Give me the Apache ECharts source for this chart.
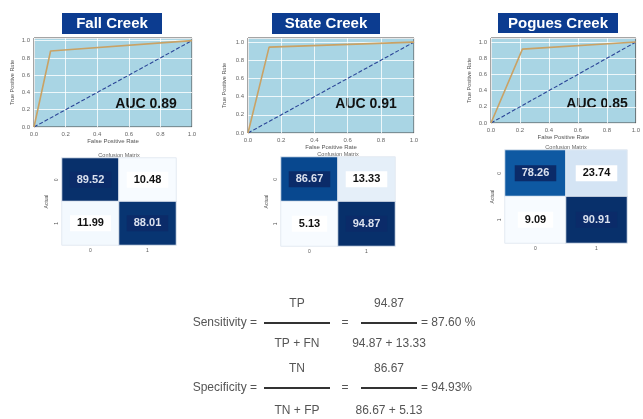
<!DOCTYPE html>
<html>
<head>
<meta charset="utf-8">
<script src="https://cdn.jsdelivr.net/npm/echarts@6/dist/echarts.min.js"></script>
<style>
html,body{margin:0;padding:0;background:#fff;}
#chart{width:643px;height:419px;}
</style>
</head>
<body>
<div id="chart"></div>
<script>
// ---------- data ----------
const creekNames = ['Fall Creek', 'State Creek', 'Pogues Creek'];
const aucValues = ['0.89', '0.91', '0.85'];
const rocFall = [[0, 0], [0.105, 0.88], [1, 1]];
const rocState = [[0, 0], [0.127, 0.945], [1, 1]];
const rocPogues = [[0, 0], [0.217, 0.913], [1, 1]];
const chanceLine = [[0, 0], [1, 1]];
const rocTicks = [0, 0.2, 0.4, 0.6, 0.8, 1.0];
const cmClasses = ['0', '1'];
const cmFall = [[89.52, 10.48], [11.99, 88.01]];
const cmState = [[86.67, 13.33], [5.13, 94.87]];
const cmPogues = [[78.26, 23.74], [9.09, 90.91]];
const sensitivityText = ['Sensitivity =', 'TP', 'TP + FN', '94.87', '94.87 + 13.33', '= 87.60 %'];
const specificityText = ['Specificity =', 'TN', 'TN + FP', '86.67', '86.67 + 5.13', '= 94.93%'];

// ---------- layout ----------
const FONT = "'Liberation Sans', Arial, sans-serif";
const rocData = [rocFall, rocState, rocPogues];
const cmData = [cmFall, cmState, cmPogues];
const rocGrids = [
  {left: 34, top: 38, width: 158, height: 89, ymax: 1.03, yGap: 19, xGap: 10},
  {left: 248, top: 38, width: 166, height: 95, ymax: 1.045, yGap: 21, xGap: 10},
  {left: 491, top: 38, width: 149, height: 85, ymax: 1.05, yGap: 19, xGap: 9}
];
const cmGrids = [
  {left: 62, top: 158, width: 114, height: 87, nameGap: 13},
  {left: 281, top: 157, width: 114, height: 89, nameGap: 12},
  {left: 505, top: 150, width: 122, height: 93, nameGap: 10}
];
const titleBoxes = [
  {x: 62, y: 13, w: 100, h: 21},
  {x: 272, y: 13, w: 108, h: 21},
  {x: 498, y: 13, w: 120, h: 20}
];
const aucPos = [[146, 104], [366, 104], [597, 104]];
const blues = ['#f7fbff','#deebf7','#c6dbef','#9ecae1','#6baed6','#4292c6','#2171b5','#08519c','#08306b'];

const grid = [], xAxis = [], yAxis = [], series = [], visualMap = [], graphic = [];

rocGrids.forEach((g, i) => {
  grid.push({left: g.left, top: g.top, width: g.width, height: g.height, show: true,
    backgroundColor: '#a9d5e4', borderColor: '#4a4a4a', borderWidth: 1});
  const fmt = v => (rocTicks.some(t => Math.abs(t - v) < 1e-6) ? v.toFixed(1) : '');
  xAxis.push({type: 'value', gridIndex: i, min: 0, max: 1, interval: 0.2,
    name: 'False Positive Rate', nameLocation: 'middle', nameGap: g.xGap,
    nameTextStyle: {fontSize: 6, color: '#555', fontFamily: FONT},
    axisLine: {show: false}, axisTick: {show: false},
    axisLabel: {fontSize: 6, color: '#666', margin: 4, formatter: fmt, fontFamily: FONT},
    splitLine: {lineStyle: {color: '#ffffff', width: 0.8}}});
  yAxis.push({type: 'value', gridIndex: i, min: 0, max: g.ymax, interval: 0.2,
    name: 'True Positive Rate', nameLocation: 'middle', nameGap: g.yGap,
    nameTextStyle: {fontSize: 5.5, color: '#555', fontFamily: FONT},
    axisLine: {show: false}, axisTick: {show: false},
    axisLabel: {fontSize: 6, color: '#666', margin: 4, formatter: fmt, fontFamily: FONT},
    splitLine: {lineStyle: {color: '#ffffff', width: 0.8}}});
  series.push({type: 'line', xAxisIndex: i, yAxisIndex: i, data: chanceLine, symbol: 'none',
    lineStyle: {color: '#2b4597', width: 1.1, type: [4, 2]}, z: 3, silent: true});
  series.push({type: 'line', xAxisIndex: i, yAxisIndex: i, data: rocData[i], symbol: 'none',
    lineStyle: {color: '#c9a265', width: 1.6}, z: 4, silent: true});
});

cmGrids.forEach((g, k) => {
  const gi = k + 3;
  const m = cmData[k];
  const flat = m.flat();
  const mn = Math.min(...flat), mx = Math.max(...flat);
  grid.push({left: g.left, top: g.top, width: g.width, height: g.height});
  xAxis.push({type: 'category', gridIndex: gi, data: cmClasses, position: 'bottom',
    axisLine: {show: false}, axisTick: {show: false}, splitLine: {show: false},
    axisLabel: {fontSize: 5, color: '#555', margin: 3, fontFamily: FONT}});
  yAxis.push({type: 'category', gridIndex: gi, data: cmClasses, inverse: true,
    name: 'Actual', nameLocation: 'middle', nameGap: g.nameGap,
    nameTextStyle: {fontSize: 5, color: '#555', fontFamily: FONT},
    axisLine: {show: false}, axisTick: {show: false}, splitLine: {show: false},
    axisLabel: {fontSize: 5, color: '#555', margin: 3, rotate: 90, fontFamily: FONT}});
  const data = [];
  m.forEach((row, r) => row.forEach((v, c) => {
    const dark = (v - mn) / (mx - mn) > 0.5;
    data.push({value: [c, r, v], label: {
      color: dark ? '#dbe1ee' : '#111111',
      backgroundColor: dark ? '#0b2b69' : '#ffffff'}});
  }));
  const si = series.length;
  series.push({type: 'heatmap', xAxisIndex: gi, yAxisIndex: gi, data: data,
    itemStyle: {borderColor: '#e3eaf2', borderWidth: 1},
    label: {show: true, fontSize: 11, fontWeight: 'bold', fontFamily: FONT,
      padding: [3, 7, 2, 7], formatter: p => p.value[2].toFixed(2)},
    silent: true});
  visualMap.push({show: false, seriesIndex: si, min: mn, max: mx, dimension: 2,
    inRange: {color: blues}});
  graphic.push({type: 'text', x: g.left + g.width / 2, y: g.top - 3,
    style: {text: 'Confusion Matrix', fill: '#666', font: '5.5px ' + FONT,
      textAlign: 'center', textVerticalAlign: 'middle', verticalAlign: 'middle'}});
});

titleBoxes.forEach((b, i) => {
  graphic.push({type: 'rect', shape: {x: b.x, y: b.y, width: b.w, height: b.h},
    style: {fill: '#0c3c90'}});
  graphic.push({type: 'text', x: b.x + b.w / 2, y: b.y + b.h / 2 + 0.5,
    style: {text: creekNames[i], fill: '#ffffff', font: 'bold 15px ' + FONT,
      textAlign: 'center', textVerticalAlign: 'middle', verticalAlign: 'middle'}});
  graphic.push({type: 'text', x: aucPos[i][0], y: aucPos[i][1],
    style: {text: 'AUC ' + aucValues[i], fill: '#111', font: 'bold 14px ' + FONT,
      textAlign: 'center', textVerticalAlign: 'middle', verticalAlign: 'middle'}});
});

// formula rows
function formulaRow(t, yBar, yNum, yDen) {
  const txt = (s, x, y, align) => ({type: 'text', x: x, y: y,
    style: {text: s, fill: '#555', font: '12px ' + FONT, textAlign: align,
      textVerticalAlign: 'middle', verticalAlign: 'middle'}});
  graphic.push(txt(t[0], 257, yBar, 'right'));
  graphic.push({type: 'line', shape: {x1: 264, y1: yBar, x2: 330, y2: yBar},
    style: {stroke: '#333', lineWidth: 2}});
  graphic.push(txt(t[1], 297, yNum, 'center'));
  graphic.push(txt(t[2], 297, yDen, 'center'));
  graphic.push(txt('=', 345, yBar, 'center'));
  graphic.push({type: 'line', shape: {x1: 361, y1: yBar, x2: 417, y2: yBar},
    style: {stroke: '#333', lineWidth: 2}});
  graphic.push(txt(t[3], 389, yNum, 'center'));
  graphic.push(txt(t[4], 389, yDen, 'center'));
  graphic.push(txt(t[5], 421, yBar, 'left'));
}
formulaRow(sensitivityText, 323, 304, 344);
formulaRow(specificityText, 388, 369, 411);

const chart = echarts.init(document.getElementById('chart'), null, {renderer: 'canvas'});
chart.setOption({
  backgroundColor: '#ffffff',
  animation: false,
  grid, xAxis, yAxis, series, visualMap, graphic
});
</script>
</body>
</html>
